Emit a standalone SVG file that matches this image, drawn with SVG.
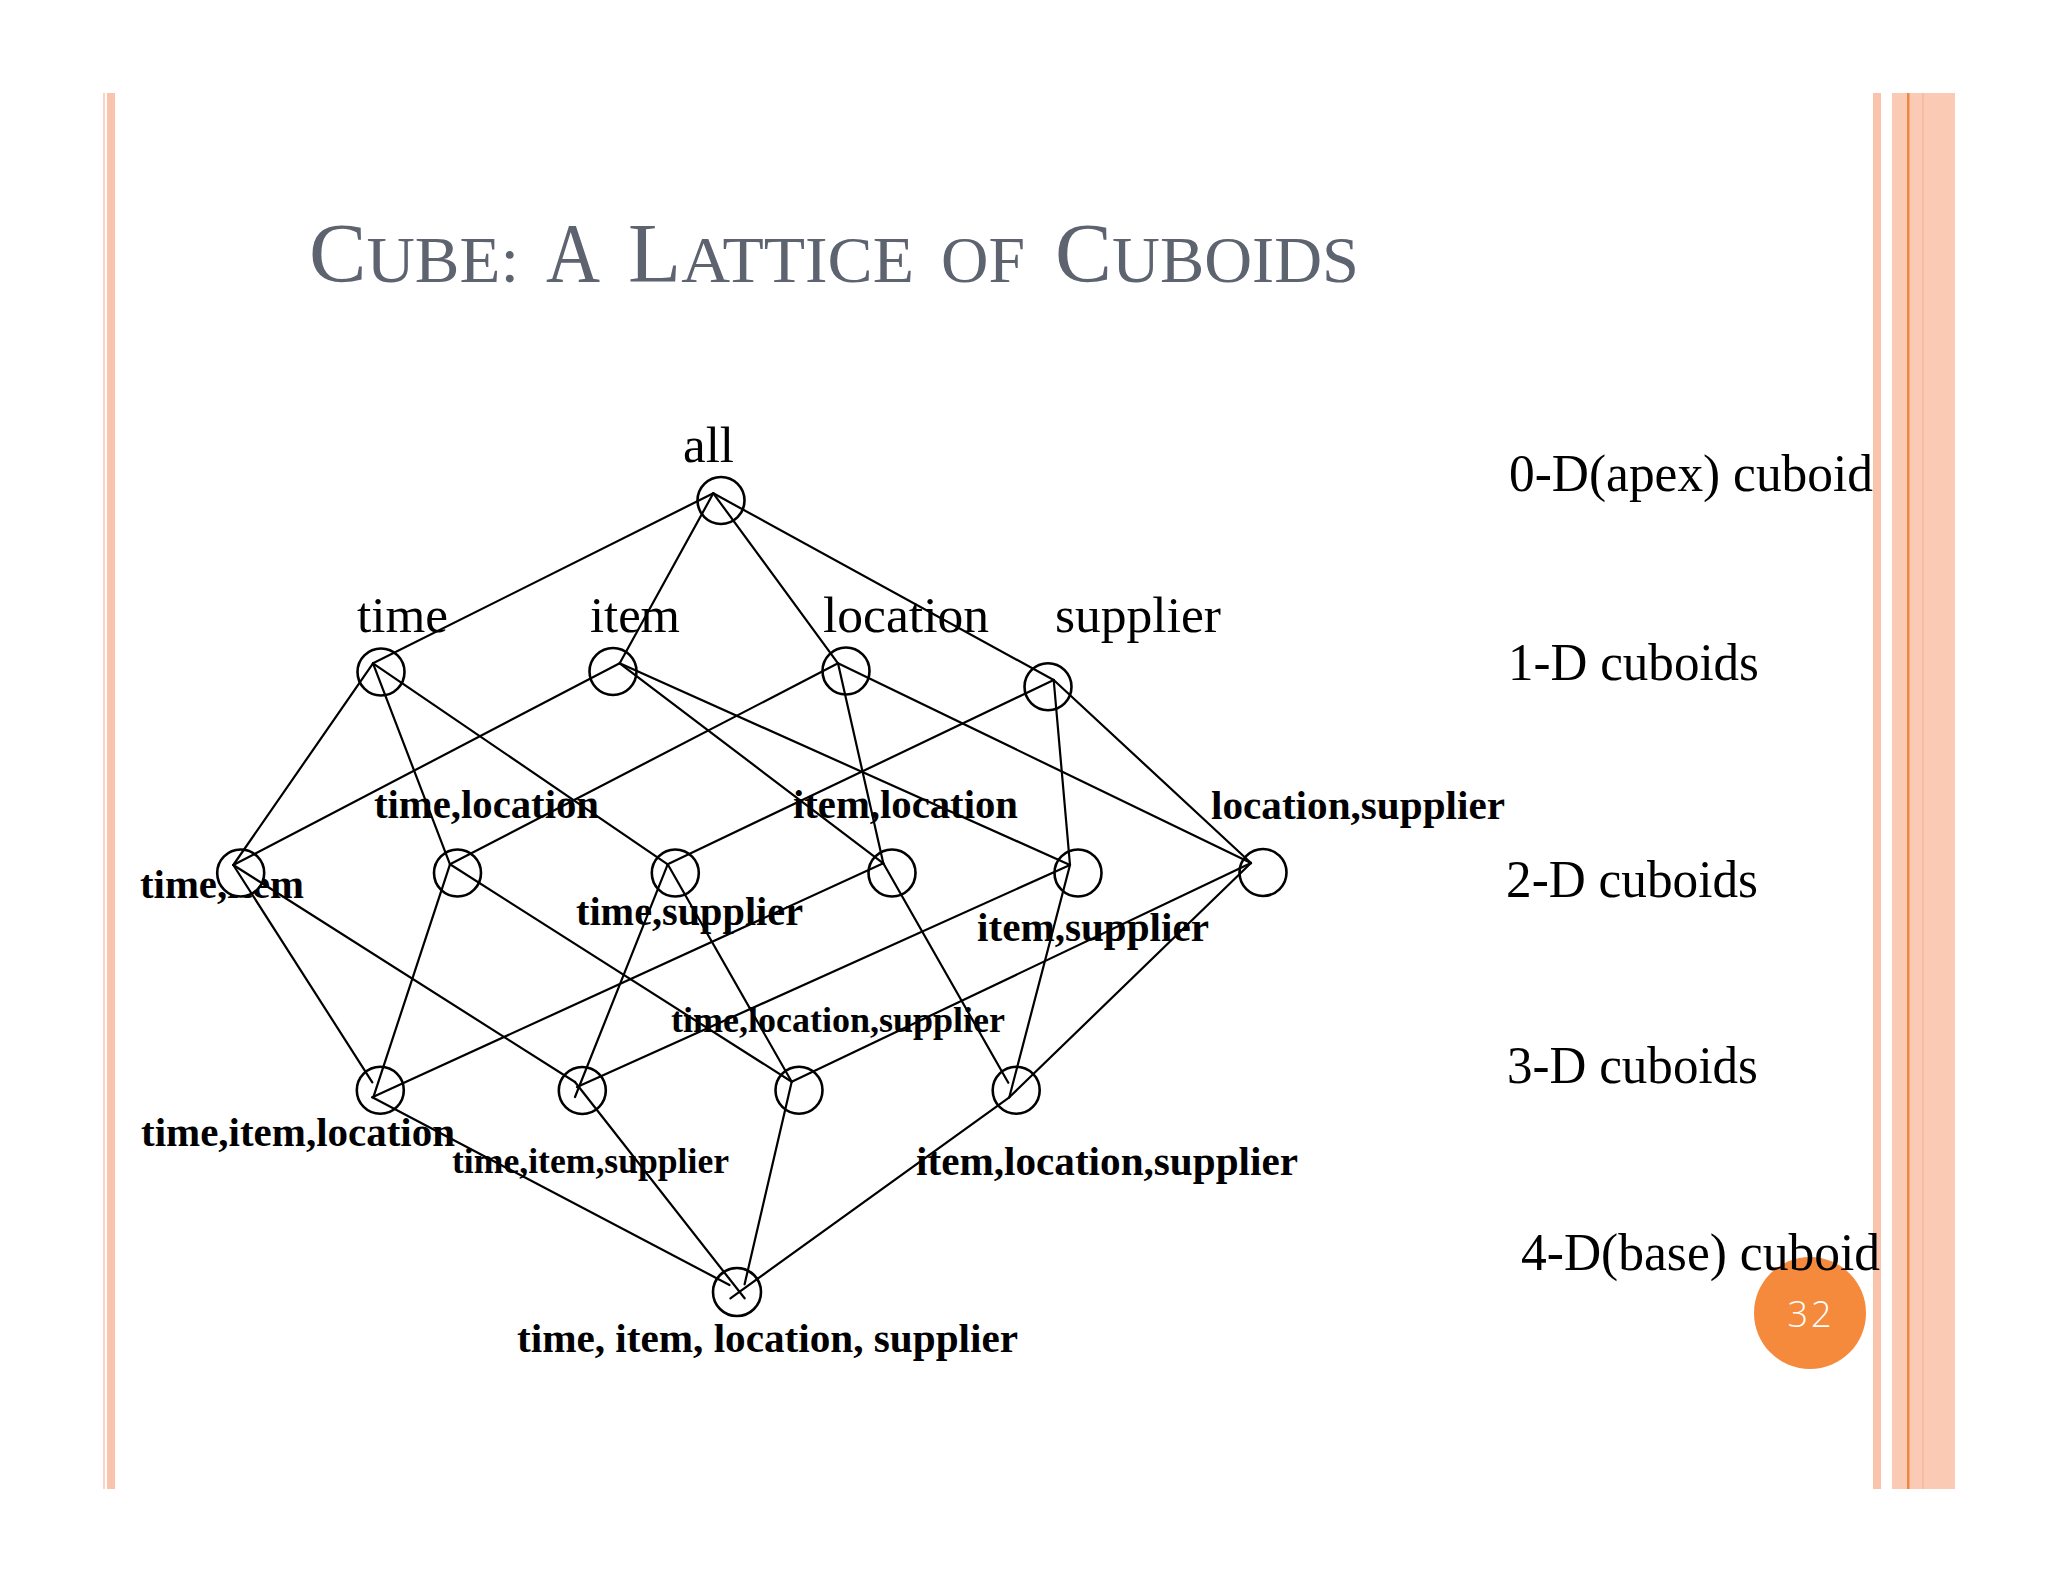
<svg xmlns="http://www.w3.org/2000/svg" width="2048" height="1582" viewBox="0 0 2048 1582">
<style>
.node{fill:#fff;stroke:#000;stroke-width:2.6}
.lbl1{font-family:"Liberation Serif","Times New Roman",serif;font-size:51px;fill:#000}
.lbl2{font-family:"Liberation Serif","Times New Roman",serif;font-size:41px;font-weight:bold;fill:#000}
.lbl3{font-family:"Liberation Serif","Times New Roman",serif;font-size:36px;font-weight:bold;fill:#000}
.lvl{font-family:"Liberation Serif","Times New Roman",serif;font-size:52px;fill:#000}
.title{font-family:"Liberation Serif","Times New Roman",serif;fill:#5E6370}
.big{font-size:85px}
.sm{font-size:66px}
#connectors line{stroke:#000;stroke-width:2.2;stroke-linecap:round}
</style>
<rect width="2048" height="1582" fill="#fff"/>
<g id="border">
<rect x="103" y="93" width="2" height="1396" fill="#FAD3C2"/>
<rect x="107" y="93" width="8" height="1396" fill="#F9C3AC"/>
<rect x="1873" y="93" width="8" height="1396" fill="#F9C3AC"/>
<rect x="1892" y="93" width="63" height="1396" fill="#FBCAB4"/>
<rect x="1907" y="93" width="2.5" height="1396" fill="#EF873E"/>
<rect x="1922" y="93" width="2" height="1396" fill="#F7BDA3"/>
</g>
<g id="title">
<text class="title" x="309" y="282" textLength="210" lengthAdjust="spacingAndGlyphs"><tspan class="big">C</tspan><tspan class="sm">UBE:</tspan></text>
<text class="title big" x="546" y="282" textLength="54" lengthAdjust="spacingAndGlyphs">A</text>
<text class="title" x="628" y="282" textLength="286" lengthAdjust="spacingAndGlyphs"><tspan class="big">L</tspan><tspan class="sm">ATTICE</tspan></text>
<text class="title sm" x="941" y="282" textLength="84" lengthAdjust="spacingAndGlyphs">OF</text>
<text class="title" x="1055" y="282" textLength="304" lengthAdjust="spacingAndGlyphs"><tspan class="big">C</tspan><tspan class="sm">UBOIDS</tspan></text>
</g>

<g id="levels">
<text class="lvl" x="1509" y="491" textLength="364" lengthAdjust="spacingAndGlyphs">0-D(apex) cuboid</text>
<text class="lvl" x="1508" y="680" textLength="251" lengthAdjust="spacingAndGlyphs">1-D cuboids</text>
<text class="lvl" x="1506" y="897" textLength="252" lengthAdjust="spacingAndGlyphs">2-D cuboids</text>
<text class="lvl" x="1507" y="1083" textLength="251" lengthAdjust="spacingAndGlyphs">3-D cuboids</text>
<circle cx="1810" cy="1313" r="56" fill="#F58A3D"/>
<text x="1811" y="1327" text-anchor="middle" font-family="'Open Sans','Liberation Sans',sans-serif" font-size="36" font-weight="300" letter-spacing="3" fill="#FFFFFF">32</text>
<text class="lvl" x="1521" y="1270" textLength="359" lengthAdjust="spacingAndGlyphs">4-D(base) cuboid</text>
</g>

<g id="n-all"><text class="lbl1" x="683" y="462">all</text><circle class="node" cx="721" cy="500.5" r="23.5"/></g>
<g id="n-time"><text class="lbl1" x="357" y="632" textLength="91" lengthAdjust="spacingAndGlyphs">time</text><circle class="node" cx="381" cy="672" r="23.5"/></g>
<g id="n-item"><text class="lbl1" x="590" y="632" textLength="90" lengthAdjust="spacingAndGlyphs">item</text><circle class="node" cx="613" cy="671.5" r="23.5"/></g>
<g id="n-location"><text class="lbl1" x="823" y="632" textLength="166" lengthAdjust="spacingAndGlyphs">location</text><circle class="node" cx="846" cy="671" r="23.5"/></g>
<g id="n-supplier"><text class="lbl1" x="1055" y="632" textLength="166" lengthAdjust="spacingAndGlyphs">supplier</text><circle class="node" cx="1048" cy="686.7" r="23.5"/></g>

<g id="n-time-item"><text class="lbl2" x="140" y="898" textLength="164" lengthAdjust="spacingAndGlyphs">time,item</text><circle class="node" cx="240.7" cy="873" r="23.5"/></g>
<g id="n-time-location"><text class="lbl2" x="374" y="818" textLength="225" lengthAdjust="spacingAndGlyphs">time,location</text><circle class="node" cx="457.5" cy="873" r="23.5"/></g>
<g id="n-time-supplier"><text class="lbl2" x="576" y="925" textLength="227" lengthAdjust="spacingAndGlyphs">time,supplier</text><circle class="node" cx="675.3" cy="873" r="23.5"/></g>
<g id="n-item-location"><text class="lbl2" x="793" y="818" textLength="225" lengthAdjust="spacingAndGlyphs">item,location</text><circle class="node" cx="892" cy="873" r="23.5"/></g>
<g id="n-item-supplier"><text class="lbl2" x="977" y="941" textLength="232" lengthAdjust="spacingAndGlyphs">item,supplier</text><circle class="node" cx="1078" cy="873" r="23.5"/></g>
<g id="n-location-supplier"><text class="lbl2" x="1211" y="819" textLength="294" lengthAdjust="spacingAndGlyphs">location,supplier</text><circle class="node" cx="1263" cy="872.5" r="23.5"/></g>

<g id="n-time-item-location"><text class="lbl2" x="141" y="1146" textLength="314" lengthAdjust="spacingAndGlyphs">time,item,location</text><circle class="node" cx="380.3" cy="1090.3" r="23.5"/></g>
<g id="n-time-item-supplier"><text class="lbl3" x="452" y="1173" textLength="277" lengthAdjust="spacingAndGlyphs">time,item,supplier</text><circle class="node" cx="582.3" cy="1090.5" r="23.5"/></g>
<g id="n-time-location-supplier"><text class="lbl3" x="671" y="1032" textLength="334" lengthAdjust="spacingAndGlyphs">time,location,supplier</text><circle class="node" cx="799" cy="1090.3" r="23.5"/></g>
<g id="n-item-location-supplier"><text class="lbl2" x="916" y="1175" textLength="382" lengthAdjust="spacingAndGlyphs">item,location,supplier</text><circle class="node" cx="1016.2" cy="1090.3" r="23.5"/></g>

<g id="n-base"><text class="lbl2" x="517" y="1352" textLength="501" lengthAdjust="spacingAndGlyphs">time, item, location, supplier</text><circle class="node" cx="737" cy="1292" r="24"/></g>

<g id="connectors">
<line x1="713.3" y1="493.3" x2="373" y2="663.3"/>
<line x1="713.3" y1="493.3" x2="619.7" y2="663.3"/>
<line x1="713.3" y1="493.3" x2="838" y2="663.3"/>
<line x1="713.3" y1="493.3" x2="1053.7" y2="680"/>

<line x1="373" y1="663.3" x2="233.3" y2="865"/>
<line x1="373" y1="663.3" x2="450" y2="864.3"/>
<line x1="373" y1="663.3" x2="667.7" y2="864.3"/>
<line x1="619.7" y1="663.3" x2="233.3" y2="865"/>
<line x1="619.7" y1="663.3" x2="883.3" y2="863.3"/>
<line x1="619.7" y1="663.3" x2="1070" y2="865"/>
<line x1="838" y1="663.3" x2="450" y2="864.3"/>
<line x1="838" y1="663.3" x2="883.3" y2="863.3"/>
<line x1="838" y1="663.3" x2="1251" y2="863"/>
<line x1="1053.7" y1="680" x2="667.7" y2="864.3"/>
<line x1="1053.7" y1="680" x2="1070" y2="865"/>
<line x1="1053.7" y1="680" x2="1251" y2="863"/>

<line x1="233.3" y1="865" x2="372.3" y2="1082.3"/>
<line x1="233.3" y1="865" x2="575" y2="1082"/>
<line x1="450" y1="864.3" x2="373.3" y2="1097.3"/>
<line x1="450" y1="864.3" x2="791.7" y2="1081.7"/>
<line x1="667.7" y1="864.3" x2="575" y2="1097"/>
<line x1="667.7" y1="864.3" x2="791.7" y2="1081.7"/>
<line x1="883.3" y1="863.3" x2="372.3" y2="1097.3"/>
<line x1="883.3" y1="863.3" x2="1008.3" y2="1082.7"/>
<line x1="1070" y1="865" x2="577" y2="1087"/>
<line x1="1070" y1="865" x2="1009.3" y2="1097.3"/>
<line x1="1251" y1="863" x2="791.7" y2="1081.7"/>
<line x1="1251" y1="863" x2="1009.3" y2="1097.3"/>

<line x1="372.3" y1="1097.3" x2="729.5" y2="1285"/>
<line x1="575" y1="1082" x2="744.6" y2="1298.3"/>
<line x1="791.7" y1="1081.7" x2="744.6" y2="1284.3"/>
<line x1="1009.3" y1="1097.3" x2="730.4" y2="1298.3"/>
</g>
</svg>
